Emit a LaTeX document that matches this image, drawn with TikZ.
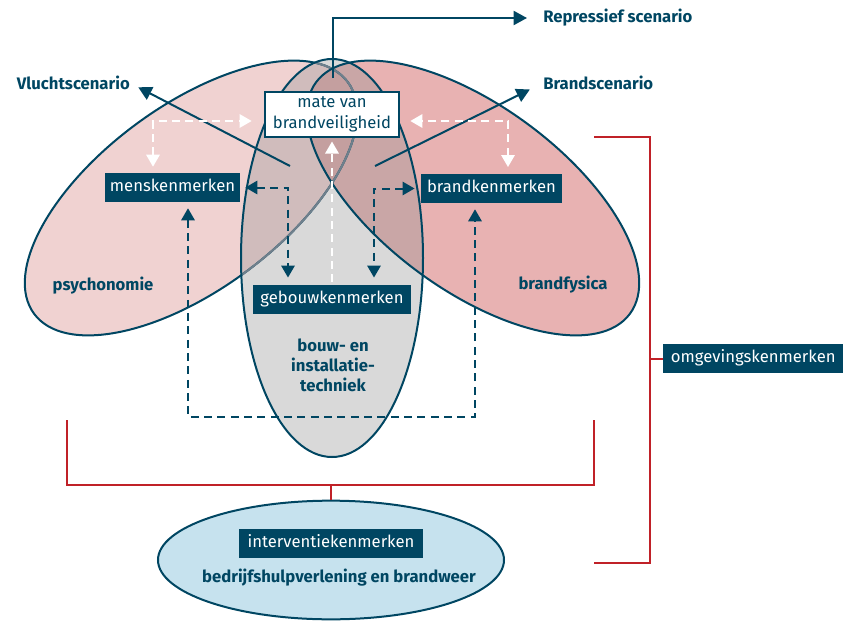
\documentclass[tikz,border=0pt]{standalone}
\usepackage{fontspec}
\setmainfont{Fira Sans}
\usepackage{tikz}
\usetikzlibrary{arrows.meta, calc, shapes.geometric}
\usepackage{xcolor}

\definecolor{vrblue}{RGB}{0,70,98}
\definecolor{vrred}{RGB}{192,33,40}
\definecolor{psypink}{RGB}{240,210,209}
\definecolor{fyspink}{RGB}{232,178,178}
\definecolor{bouwgrey}{RGB}{217,217,217}
\definecolor{psybouw}{RGB}{208,188,188}
\definecolor{fysbouw}{RGB}{201,166,166}
\definecolor{allesdrie}{RGB}{196,159,159}
\definecolor{bhvblue}{RGB}{198,226,238}
\definecolor{fadeline}{RGB}{112,128,140}

\tikzset{
  kenmerk/.style={fill=vrblue, text=white, inner xsep=4pt, inner ysep=0pt, minimum height=21.75pt,
    text height=9pt, text depth=2.5pt, font=\fontsize{12.5}{15}\selectfont},
  veld/.style={text=vrblue, inner sep=0pt, align=center, font=\fontsize{12.5}{15}\selectfont\bfseries},
  pijl/.style={draw=vrblue, line width=1.5pt, -{Triangle[length=10pt,width=10.5pt]}},
  stippel/.style={line width=1.5pt, dash pattern=on 6pt off 4pt,
    {Triangle[length=9pt,width=10pt]}-{Triangle[length=9pt,width=10pt]}},
  haak/.style={draw=vrred, line width=1.5pt},
  psyvorm/.style={rotate around={-36.4:(191,198)}},
  fysvorm/.style={rotate around={36.4:(473,198)}},
}

\begin{document}
\begin{tikzpicture}[x=0.75pt,y=0.75pt,yscale=-1,xscale=1]
\useasboundingbox (0,0) rectangle (843,628);

%Shape: Ellipse fills
\fill[psypink, psyvorm] (191,198) ellipse (195 and 92);
\fill[fyspink, fysvorm] (473,198) ellipse (195 and 92);
\fill[bouwgrey] (332,258) ellipse (91 and 199);
\begin{scope}
\clip (332,258) ellipse (91 and 199);
\fill[psybouw, psyvorm] (191,198) ellipse (195 and 92);
\fill[fysbouw, fysvorm] (473,198) ellipse (195 and 92);
\begin{scope}
\clip[psyvorm] (191,198) ellipse (195 and 92);
\fill[allesdrie, fysvorm] (473,198) ellipse (195 and 92);
\end{scope}
\end{scope}

%Shape: Ellipse outlines
\draw[vrblue, line width=1.5pt, psyvorm] (191,198) ellipse (195 and 92);
\begin{scope}
\clip (332,258) ellipse (91 and 199);
\draw[fadeline, line width=1.5pt, psyvorm] (191,198) ellipse (195 and 92);
\end{scope}
\draw[vrblue, line width=1.5pt] (332,258) ellipse (91 and 199);
\draw[vrblue, line width=1.5pt, fysvorm] (473,198) ellipse (195 and 92);

%Shape: Ellipse bottom
\node[ellipse, draw=vrblue, fill=bhvblue, line width=1.5pt, minimum width=259.5pt, minimum height=89pt] (bhv) at (331,560) {};

% Text Node
\node[kenmerk, minimum width=101pt] (mens) at (172.5,187.5) {menskenmerken};
\node[kenmerk, minimum width=106pt] (brand) at (491.5,188.5) {brandkenmerken};
\node[kenmerk, minimum width=119pt] (gebouw) at (332,299) {gebouwkenmerken};
\node[kenmerk, minimum width=138pt] (interv) at (331,543.5) {interventiekenmerken};
\node[kenmerk, minimum width=135pt, anchor=west] (omg) at (663,358.5) {omgevingskenmerken};
\node[draw=vrblue, fill=white, line width=1.5pt, text=vrblue, align=center, inner sep=0pt,
  minimum width=101pt, minimum height=34pt, font=\fontsize{12.5}{15.5}\selectfont] (mate) at (332,114.5) {mate van\\brandveiligheid};

% Text Node
\node[veld, anchor=west] (repr) at (543,18) {Repressief scenario};
\node[veld, anchor=east] (vlucht) at (130,83) {Vluchtscenario};
\node[veld, anchor=west] (brandsc) at (543,83) {Brandscenario};
\node[veld] (psy) at (103,286) {psychonomie};
\node[veld] (fys) at (563,285) {brandfysica};
\node[veld] (bouw) at (333,365) {bouw- en\\installatie-\\techniek};
\node[veld] (bhvtekst) at (339,578) {bedrijfshulpverlening en brandweer};

%Straight Lines scenarios
\coordinate (rep0) at (333,78);
\coordinate (vl0) at (290,166);
\coordinate (br0) at (375,166);
\draw[pijl, shorten >=12pt] (rep0) |- (repr.west);
\draw[pijl, shorten >=7pt] (vl0) -- (vlucht.east);
\draw[pijl, shorten >=11pt] (br0) -- (brandsc.west);

%Straight Lines dashed
\coordinate (lus) at (475,417);
\draw[stippel, draw=vrblue, shorten <=3.5pt, shorten >=5pt] (mens.east) -| ($(gebouw.north)+(-44,0)$);
\draw[stippel, draw=vrblue, shorten <=4.5pt, shorten >=5pt] (brand.west) -| ($(gebouw.north)+(42,0)$);
\draw[stippel, draw=vrblue, shorten <=4.5pt, shorten >=4.5pt] ($(mens.south)+(15.5,0)$) |- (lus) -- ($(brand.south)+(-16.5,0)$);
\draw[stippel, draw=white, shorten <=4.5pt, shorten >=9pt] ($(mens.north)+(-19.5,0)$) |- ($(mate.west)+(0,6.5)$);
\draw[stippel, draw=white, shorten <=5pt, shorten >=7.5pt] ($(brand.north)+(16.5,0)$) |- ($(mate.east)+(0,6.5)$);
\draw[white, line width=1.5pt, dash pattern=on 6pt off 4pt, -{Triangle[length=9pt,width=10pt]},
  shorten >=2.5pt, shorten <=1.5pt] (gebouw.north) -- (mate.south);

%Straight Lines brackets
\coordinate (lo1) at (67,420);
\coordinate (lo2) at (594,420);
\coordinate (lomid) at (331,485);
\coordinate (ro1) at (594,137);
\coordinate (ro2) at (594,563);
\coordinate (rx) at (650,358.5);
\draw[haak] (lo1) |- (lo2 |- lomid) -- (lo2);
\draw[haak] (lomid) -- (bhv.north);
\draw[haak] (ro1) -| (rx) |- (ro2);
\draw[haak] (rx) -- (omg.west);

\end{tikzpicture}
\end{document}
